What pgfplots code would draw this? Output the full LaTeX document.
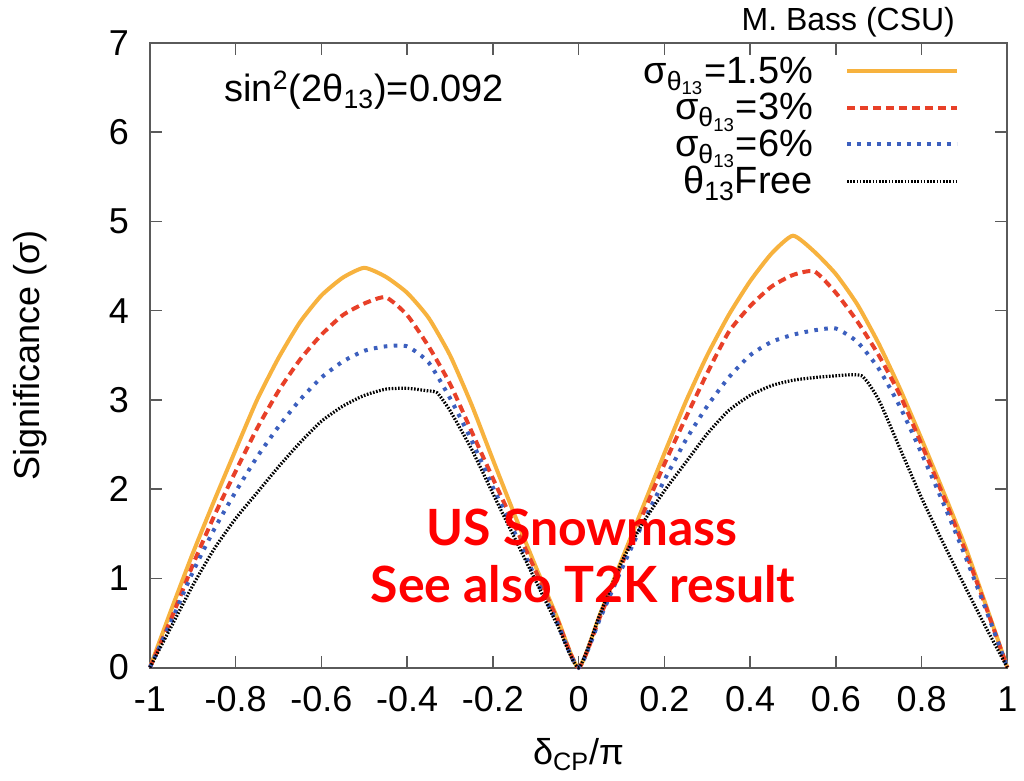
\documentclass[border=0pt]{standalone}
\usepackage{pgfplots}
\pgfplotsset{compat=1.18}
\usepackage{fontspec}
\setmainfont{Liberation Sans}
\newfontfamily\redfont{Lato}
\definecolor{corange}{RGB}{247,178,62}
\definecolor{cred}{RGB}{232,64,40}
\definecolor{cblue}{RGB}{60,95,190}
\definecolor{caxis}{RGB}{90,90,90}
\begin{document}
\begin{tikzpicture}
\begin{axis}[
  at={(0,0)}, anchor=south west,
  scale only axis, width=429pt, height=312.5pt,
  xmin=-1, xmax=1, ymin=0, ymax=7,
  xtick={-1,-0.8,-0.6,-0.4,-0.2,0,0.2,0.4,0.6,0.8,1},
  xticklabels={-1,-0.8,-0.6,-0.4,-0.2,0,0.2,0.4,0.6,0.8,1},
  ytick={0,1,2,3,4,5,6,7},
  yticklabels={0,1,2,3,4,5,6,7},
  tick align=inside, major tick length=6pt,
  axis line style={caxis, line width=1pt},
  tick style={caxis, line width=0.8pt},
  ticklabel style={font=\fontsize{18}{20}\selectfont},
  xticklabel style={yshift=-6pt},
  yticklabel style={xshift=-7pt},
  xlabel={δ\textsubscript{CP}/π}, ylabel={Significance (σ)},
  label style={font=\fontsize{18}{20}\selectfont},
  xlabel style={at={(axis description cs:0.5,-0.139)}, anchor=center},
  ylabel style={at={(axis description cs:-0.14,0.5)}, anchor=center},
  clip=false,
  legend style={draw=none, fill=none, at={(0.944,0.985)}, anchor=north east,
    font=\fontsize{19}{19}\selectfont, row sep=-0.5pt, inner sep=0pt},
  legend cell align=right,
  legend plot pos=right,
  legend image code/.code={\path (0pt,0pt); \draw[#1] (14pt,0pt) -- (69pt,0pt);},
]
\addplot[corange, line width=2pt, smooth, tension=0.35] coordinates {
(-1,0) (-0.95,0.65) (-0.9,1.28) (-0.85,1.87) (-0.8,2.44) (-0.75,3.0) (-0.7,3.47) (-0.65,3.87) (-0.6,4.17) (-0.55,4.37) (-0.5,4.48)
(-0.45,4.38) (-0.4,4.2) (-0.35,3.92) (-0.3,3.5) (-0.25,2.95) (-0.2,2.33) (-0.15,1.72) (-0.1,1.13) (-0.05,0.56) (0,0)
(0.05,0.6) (0.1,1.2) (0.15,1.8) (0.2,2.4) (0.25,2.98) (0.3,3.5) (0.35,3.95) (0.4,4.33) (0.45,4.64) (0.5,4.84)
(0.55,4.66) (0.6,4.41) (0.65,4.07) (0.7,3.63) (0.75,3.12) (0.8,2.56) (0.85,1.98) (0.9,1.38) (0.95,0.7) (1,0)};
\addlegendentry{σ\textsubscript{θ\textsubscript{13}}=1.5\%}
\addplot[cred, line width=2pt, dash pattern=on 4pt off 2.5pt, smooth, tension=0.35] coordinates {
(-1,0) (-0.95,0.55) (-0.9,1.15) (-0.85,1.7) (-0.8,2.2) (-0.75,2.68) (-0.7,3.1) (-0.65,3.45) (-0.6,3.73) (-0.55,3.95) (-0.5,4.08) (-0.45,4.15)
(-0.4,3.95) (-0.35,3.6) (-0.3,3.18) (-0.25,2.65) (-0.2,2.12) (-0.15,1.6) (-0.1,1.08) (-0.05,0.54) (0,0)
(0.05,0.57) (0.1,1.15) (0.15,1.72) (0.2,2.28) (0.25,2.8) (0.3,3.3) (0.35,3.76) (0.4,4.05) (0.45,4.27) (0.5,4.4) (0.55,4.44)
(0.6,4.2) (0.65,3.88) (0.7,3.5) (0.75,3.05) (0.8,2.5) (0.85,1.93) (0.9,1.33) (0.95,0.68) (1,0)};
\addlegendentry{σ\textsubscript{θ\textsubscript{13}}=3\%}
\addplot[cblue, line width=2pt, dash pattern=on 1.8pt off 3.2pt, smooth, tension=0.35] coordinates {
(-1,0) (-0.95,0.52) (-0.9,1.07) (-0.85,1.55) (-0.8,1.97) (-0.75,2.36) (-0.7,2.7) (-0.65,3.0) (-0.6,3.25) (-0.55,3.43) (-0.5,3.55) (-0.45,3.6) (-0.4,3.6)
(-0.35,3.42) (-0.3,3.02) (-0.25,2.55) (-0.2,2.02) (-0.15,1.52) (-0.1,1.0) (-0.05,0.5) (0,0)
(0.05,0.55) (0.1,1.1) (0.15,1.62) (0.2,2.1) (0.25,2.55) (0.3,2.93) (0.35,3.25) (0.4,3.5) (0.45,3.65) (0.5,3.73) (0.55,3.78) (0.6,3.8)
(0.65,3.65) (0.7,3.35) (0.75,2.92) (0.8,2.4) (0.85,1.85) (0.9,1.27) (0.95,0.65) (1,0)};
\addlegendentry{σ\textsubscript{θ\textsubscript{13}}=6\%}
\addplot[black, line width=1.6pt, dash pattern=on 0.8pt off 0.8pt, smooth, tension=0.35] coordinates {
(-1,0) (-0.95,0.46) (-0.9,0.92) (-0.85,1.33) (-0.8,1.67) (-0.75,1.96) (-0.7,2.25) (-0.65,2.52) (-0.6,2.76) (-0.55,2.93) (-0.5,3.05) (-0.45,3.12) (-0.4,3.13) (-0.35,3.1) (-0.33,3.08)
(-0.3,2.88) (-0.25,2.45) (-0.2,1.95) (-0.15,1.46) (-0.1,0.97) (-0.05,0.48) (0,0)
(0.05,0.6) (0.1,1.18) (0.15,1.62) (0.2,1.98) (0.25,2.3) (0.3,2.62) (0.35,2.88) (0.4,3.05) (0.45,3.16) (0.5,3.22) (0.55,3.25) (0.6,3.27) (0.66,3.27)
(0.7,3.0) (0.75,2.45) (0.8,1.9) (0.85,1.4) (0.9,0.92) (0.95,0.45) (1,0)};
\addlegendentry{θ\textsubscript{13}Free}
\node[font=\fontsize{19}{20}\selectfont] at (axis cs:-0.5,6.47) {sin\textsuperscript{2}(2θ\textsubscript{13})=0.092};
\node[font=\fontsize{16}{18}\selectfont] at (axis cs:0.629,7.23) {M. Bass (CSU)};
\node[font=\redfont\bfseries\fontsize{25}{26}\selectfont, text=red] at (axis cs:0.008,1.57) {US Snowmass};
\node[font=\redfont\bfseries\fontsize{25}{26}\selectfont, text=red] at (axis cs:0.01,0.93) {See also T2K result};
\end{axis}
\useasboundingbox (-75pt,-56.5pt) rectangle (437pt,334pt);
\end{tikzpicture}
\end{document}
